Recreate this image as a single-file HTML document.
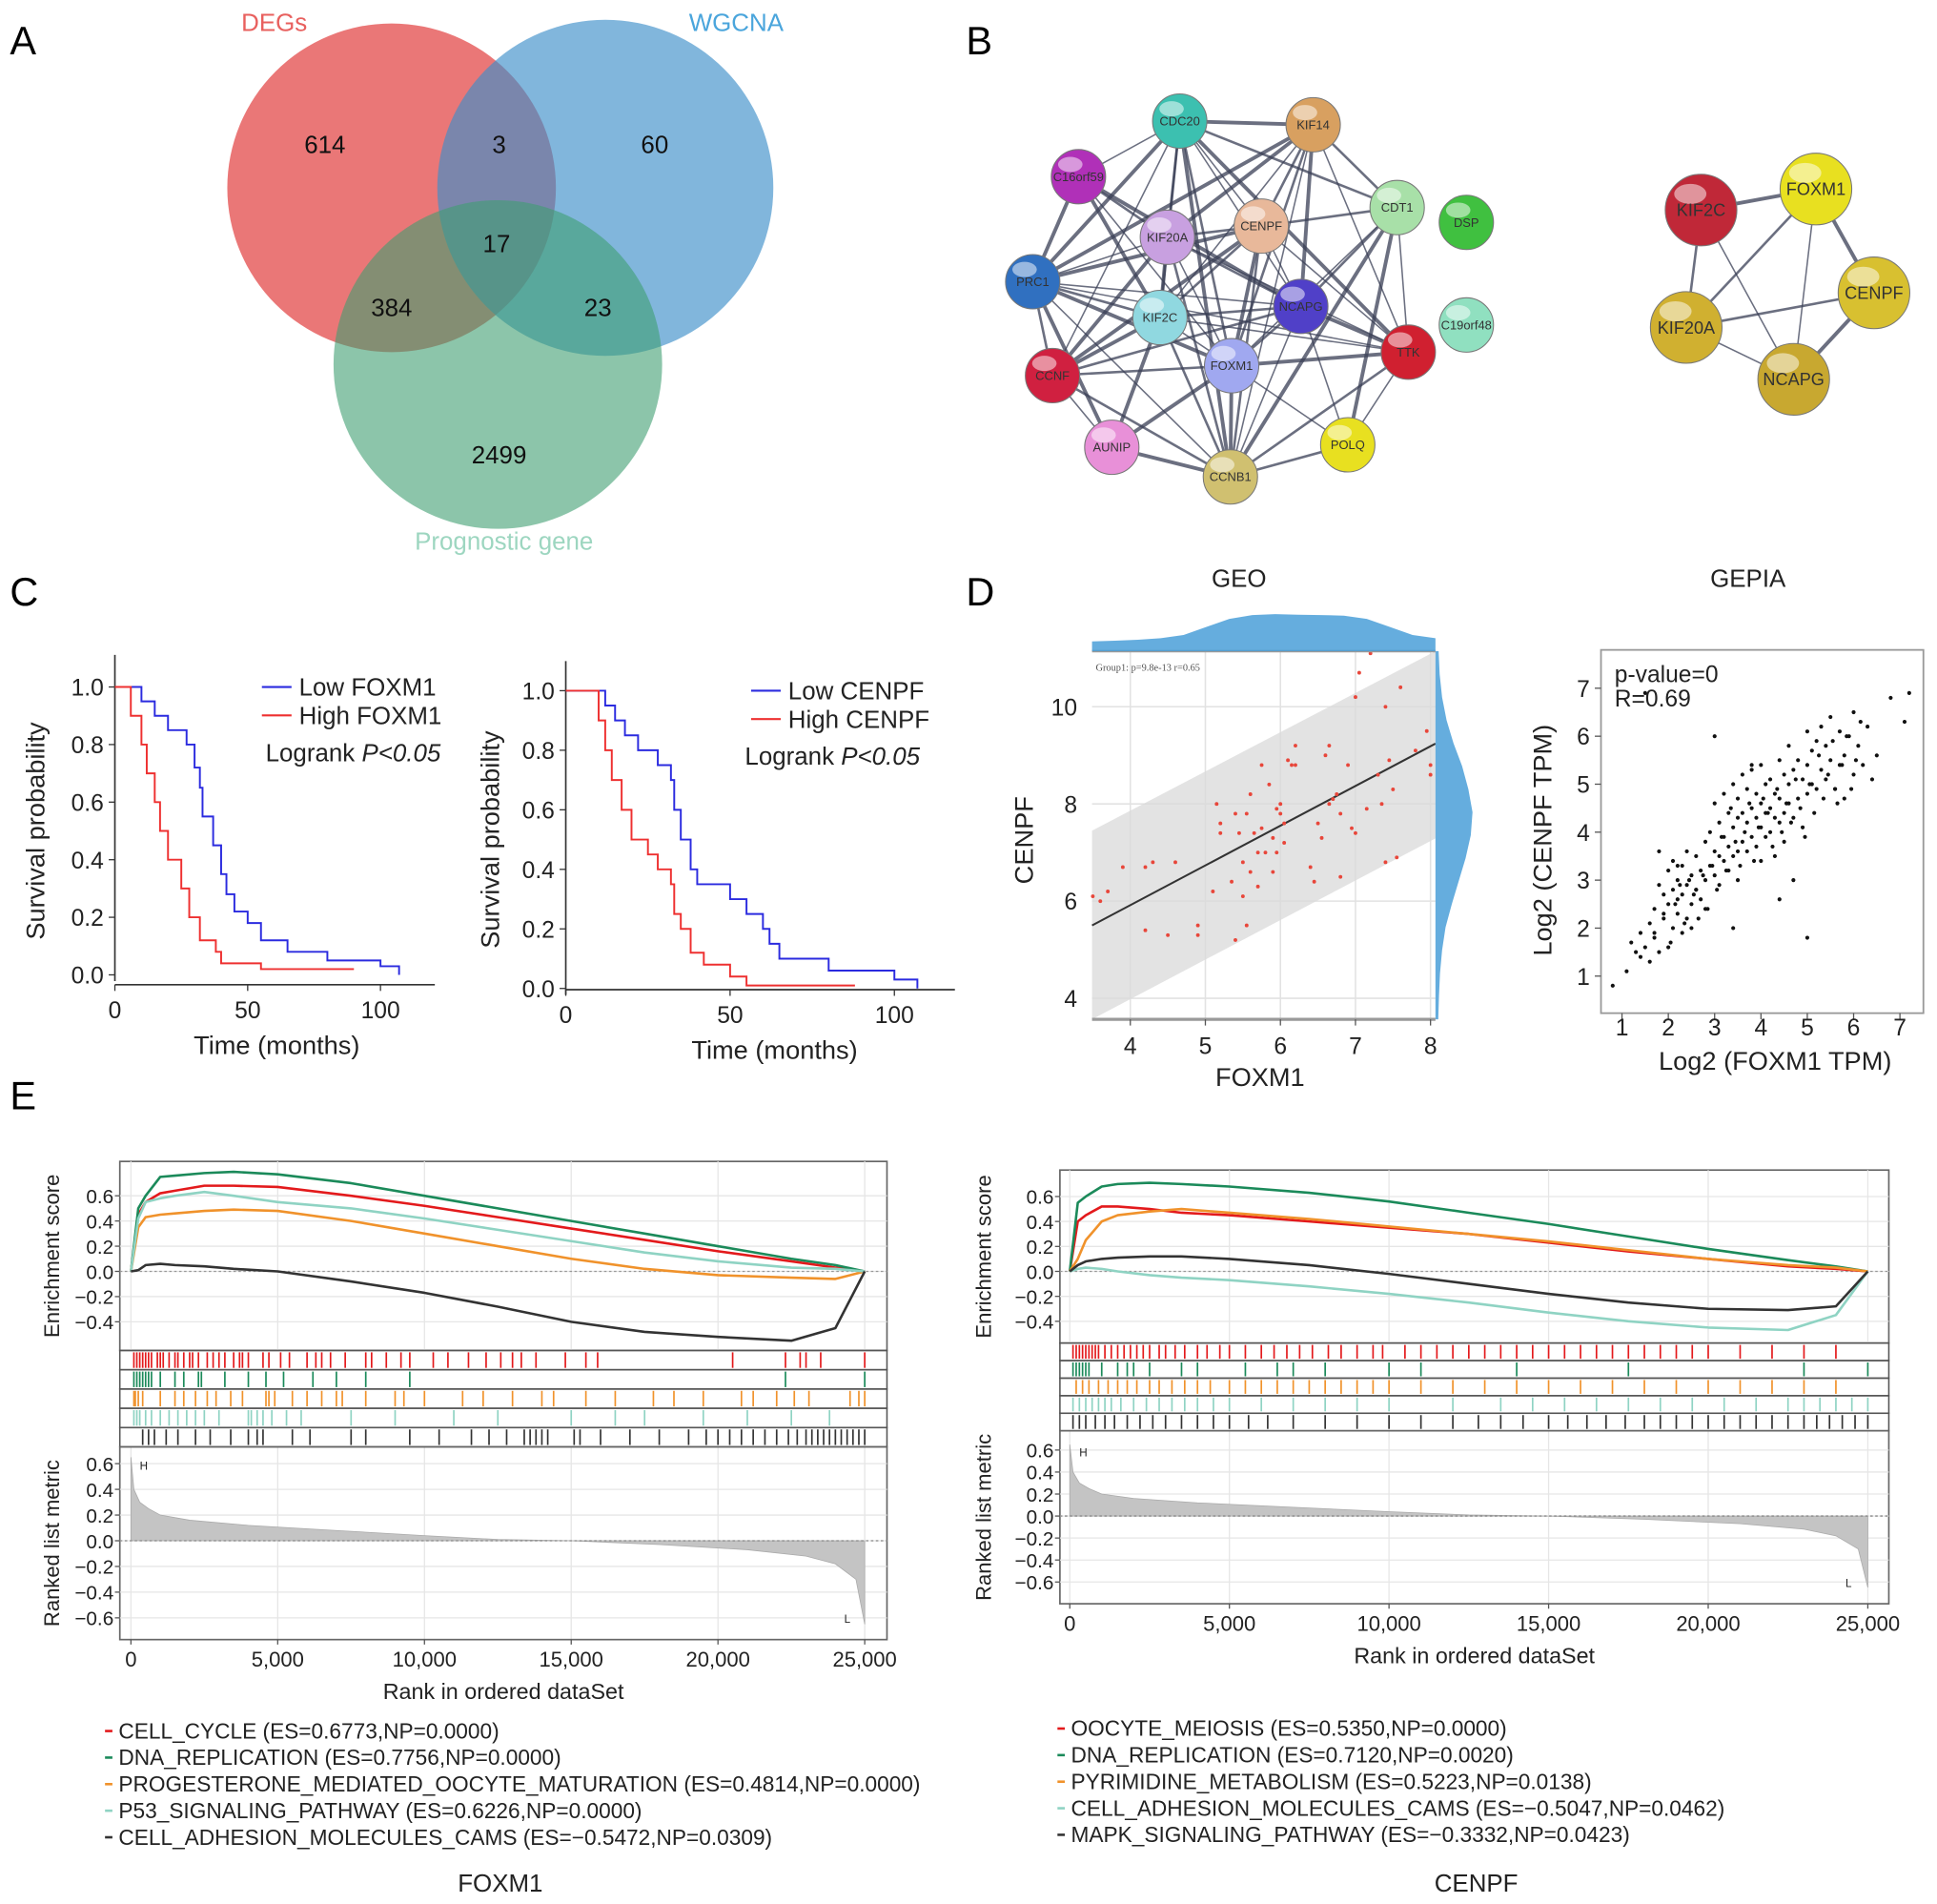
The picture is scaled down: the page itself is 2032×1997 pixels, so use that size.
<!DOCTYPE html>
<html><head><meta charset="utf-8"><style>
html,body{margin:0;padding:0;background:#fff;}
svg{display:block;font-family:"Liberation Sans",Arial,sans-serif;}
</style></head><body>
<svg id="fig" xmlns="http://www.w3.org/2000/svg" width="2032" height="1997" viewBox="0 0 1568 1541" preserveAspectRatio="none">
<g>
<text x="8" y="44" font-size="32">A</text>
<circle cx="317" cy="152" r="133" fill="#e34a4a" fill-opacity="0.75"/>
<circle cx="490" cy="152" r="136" fill="#3d8fca" fill-opacity="0.65"/>
<circle cx="403" cy="295" r="133" fill="#3f9e72" fill-opacity="0.6"/>
<g font-size="20" text-anchor="middle" fill="#111">
<text x="263" y="124">614</text>
<text x="404" y="124">3</text>
<text x="530" y="124">60</text>
<text x="402" y="204">17</text>
<text x="317" y="256">384</text>
<text x="484" y="256">23</text>
<text x="404" y="375">2499</text>
</g>
<text x="222" y="25" font-size="20" fill="#e8605e" text-anchor="middle">DEGs</text>
<text x="596" y="25" font-size="20" fill="#4aa5dc" text-anchor="middle">WGCNA</text>
<text x="408" y="445" font-size="20" fill="#9dd6c0" text-anchor="middle">Prognostic gene</text>
</g>
<text x="782" y="44" font-size="32">B</text>
<g id="netB"></g>
<text x="8" y="490" font-size="32">C</text>
<g id="panelC"></g>
<text x="782" y="490" font-size="32">D</text>
<g id="panelD"></g>
<text x="8" y="898" font-size="32">E</text>
<g id="panelE"></g>
</svg>
<script>
// ---------- DATA ----------
const netNodes = ["CDC20","KIF14","C16orf59","CDT1","DSP","KIF20A","CENPF","PRC1","KIF2C","NCAPG","C19orf48","TTK","FOXM1","CCNF","AUNIP","POLQ","CCNB1"];
const netColors = ["#3cc0b0","#d8a060","#b030b8","#a8e0a8","#40c040","#c8a0e0","#e8b89a","#3070c0","#90d8e0","#5040c8","#90e0c0","#d02030","#a0a8f0","#d02040","#e890d8","#e8e020","#d0c070"];
const netPos = [[955,98],[1063,101],[873,143],[1131,168],[1187,180],[945,192],[1021,183],[836,228],[939,257],[1053,248],[1187,263],[1140,285],[997,296],[852,304],[900,362],[1091,360],[996,386]];
const netEdges = [[0,1],[0,5],[0,6],[0,7],[0,8],[0,9],[0,11],[0,12],[0,13],[0,16],[0,3],[0,2],[1,5],[1,6],[1,8],[1,9],[1,12],[1,16],[1,7],[1,3],[1,11],[2,7],[2,5],[2,12],[2,9],[3,6],[3,12],[3,16],[3,9],[3,11],[3,15],[5,6],[5,7],[5,8],[5,9],[5,12],[5,13],[5,16],[5,11],[6,7],[6,8],[6,9],[6,12],[6,16],[6,11],[6,13],[7,8],[7,9],[7,12],[7,13],[7,16],[7,14],[8,9],[8,12],[8,13],[8,16],[8,11],[8,14],[9,12],[9,16],[9,11],[9,13],[9,15],[11,12],[11,16],[11,15],[12,16],[12,13],[12,15],[12,14],[13,16],[13,14],[14,16],[15,16],[7,11],[2,8]];
const net2Nodes = ["KIF2C","FOXM1","CENPF","KIF20A","NCAPG"];
const net2Colors = ["#c02838","#e8e020","#d8c030","#d0b030","#c8a830"];
const net2Pos = [[1377,170],[1470,153],[1517,237],[1365,265],[1452,307]];
const net2Edges = [[0,1],[0,3],[0,4],[1,2],[1,3],[1,4],[2,4],[2,3],[3,4]];
const foxLowT = [0,5,10,15,20,27,30,32,33,37,40,42,45,50,55,65,80,100,107];
const foxLowS = [1,1,0.95,0.9,0.85,0.8,0.72,0.65,0.55,0.45,0.35,0.28,0.22,0.18,0.12,0.08,0.05,0.03,0];
const foxHighT = [0,3,6,10,12,15,17,20,25,28,32,38,40,55,90];
const foxHighS = [1,1,0.9,0.8,0.7,0.6,0.5,0.4,0.3,0.2,0.12,0.08,0.04,0.02,0.02];
const cenLowT = [0,10,12,15,18,22,28,32,33,35,38,40,50,55,60,62,65,80,100,107];
const cenLowS = [1,1,0.95,0.9,0.85,0.8,0.75,0.7,0.6,0.5,0.4,0.35,0.3,0.25,0.2,0.15,0.1,0.06,0.03,0];
const cenHighT = [0,3,10,12,14,17,20,25,28,32,33,35,38,42,50,55,88];
const cenHighS = [1,1,0.9,0.8,0.7,0.6,0.5,0.45,0.4,0.35,0.25,0.2,0.12,0.08,0.04,0.01,0.01];
const kmXTicks = [0,50,100];
const kmYTicks = [0,0.2,0.4,0.6,0.8,1.0];
const geoX = [3.5,3.6,3.7,3.9,4.2,4.2,4.3,4.5,4.6,4.9,4.9,5.1,5.15,5.2,5.2,5.35,5.4,5.4,5.45,5.5,5.5,5.55,5.55,5.6,5.6,5.65,5.7,5.7,5.75,5.75,5.8,5.85,5.9,5.9,5.95,5.95,6.0,6.0,6.05,6.05,6.1,6.15,6.2,6.2,6.4,6.45,6.5,6.55,6.6,6.65,6.65,6.7,6.75,6.8,6.8,6.9,6.95,7.0,7.0,7.05,7.15,7.2,7.3,7.35,7.4,7.4,7.45,7.5,7.55,7.6,7.8,7.95,8.0,8.0];
const geoY = [6.1,6.0,6.2,6.7,5.4,6.7,6.8,5.3,6.8,5.5,5.3,6.2,8.0,7.6,7.4,6.4,5.2,7.8,7.4,6.1,6.8,7.8,5.5,8.2,6.6,7.4,6.3,7.0,7.5,8.8,7.0,8.4,6.6,7.3,7.9,7.0,7.8,8.0,7.6,7.2,8.9,8.8,9.2,8.8,6.7,6.4,7.6,7.3,9.0,9.2,8.0,8.1,8.2,7.8,6.5,8.8,7.5,10.2,7.4,10.7,7.9,11.1,8.6,8.0,10.0,6.8,8.9,8.3,6.9,10.4,9.1,9.5,8.8,8.6];
const geoXTicks = [4,5,6,7,8];
const geoYTicks = [4,6,8,10];
const geoTopDens = [0.15,0.17,0.2,0.25,0.35,0.6,0.85,0.97,1.0,0.98,0.97,0.95,0.85,0.6,0.35,0.25];
const geoRightDens = [0.02,0.05,0.12,0.25,0.45,0.7,0.88,1.0,0.95,0.8,0.6,0.4,0.22,0.12,0.06,0.03,0.01];
const gepX = [0.8,1.1,1.2,1.3,1.4,1.4,1.5,1.6,1.6,1.7,1.7,1.8,1.8,1.9,1.9,2.0,2.0,2.0,2.1,2.1,2.1,2.2,2.2,2.2,2.3,2.3,2.3,2.4,2.4,2.4,2.5,2.5,2.5,2.6,2.6,2.7,2.7,2.8,2.8,2.8,2.9,2.9,3.0,3.0,3.0,3.1,3.1,3.1,3.2,3.2,3.2,3.3,3.3,3.3,3.4,3.4,3.4,3.5,3.5,3.5,3.5,3.6,3.6,3.6,3.7,3.7,3.7,3.8,3.8,3.8,3.9,3.9,3.9,4.0,4.0,4.0,4.0,4.1,4.1,4.1,4.2,4.2,4.2,4.3,4.3,4.3,4.4,4.4,4.4,4.5,4.5,4.5,4.6,4.6,4.6,4.7,4.7,4.8,4.8,4.9,4.9,5.0,5.0,5.0,5.1,5.1,5.2,5.2,5.3,5.3,5.4,5.4,5.5,5.5,5.6,5.7,5.7,5.8,5.8,5.9,6.0,6.0,6.1,6.2,6.3,6.5,6.8,7.1,7.2,3.0,3.8,5.0,4.4,2.6,1.8,2.2,3.4,4.7,5.6,
  1.5,1.7,1.9,2.05,2.15,2.25,2.35,2.45,2.55,2.65,2.75,2.85,2.95,3.05,3.15,3.25,3.35,3.45,3.55,3.65,3.75,3.85,3.95,4.05,4.15,4.25,4.35,4.45,4.55,4.65,4.75,4.85,4.95,5.05,5.15,5.25,5.35,5.45,5.55,5.65,5.75,5.85,5.95,6.05,6.15,6.4];
const gepY = [0.8,1.1,1.7,1.5,1.4,1.9,1.6,2.1,1.3,1.8,2.4,1.5,2.9,2.2,2.7,1.6,2.5,3.2,2.0,2.8,3.4,2.3,2.6,3.0,1.9,2.7,3.3,2.2,2.9,3.6,2.5,3.1,2.0,2.8,3.5,2.6,3.2,3.0,3.8,2.4,3.3,4.0,3.1,3.6,4.6,2.9,3.5,4.2,3.4,3.9,4.8,3.2,3.7,4.4,3.5,4.1,5.0,3.0,3.6,4.3,4.7,3.8,4.4,5.2,3.6,4.2,4.9,3.9,4.5,5.3,3.7,4.3,4.8,3.4,4.1,4.6,5.4,3.9,4.4,5.0,4.0,4.5,5.1,3.5,4.3,4.8,4.2,4.7,5.5,3.8,4.4,5.2,4.6,5.0,5.8,4.3,5.3,4.7,5.5,4.1,5.1,4.8,5.4,6.1,5.0,5.7,4.9,5.9,5.3,6.2,5.1,5.8,5.5,6.4,4.9,5.4,6.1,4.7,5.6,6.0,5.2,6.5,5.8,5.4,6.2,5.6,6.8,6.3,6.9,6.0,5.4,1.8,2.6,2.8,3.6,3.3,2.0,3.0,4.9,6.9,
  1.9,2.3,1.7,2.5,2.9,2.1,3.0,2.7,2.2,3.1,2.4,3.3,2.8,3.9,3.2,4.5,3.8,3.3,4.0,4.6,3.4,4.1,4.7,4.4,3.7,4.9,4.0,4.6,4.2,5.1,4.5,3.9,5.0,4.4,5.6,4.7,5.2,5.9,4.6,5.4,6.0,4.9,5.5,6.3,5.1,5.8];
const gepXTicks = [1,2,3,4,5,6,7];
const gepYTicks = [1,2,3,4,5,6,7];
const esRanks = [0,250,500,1000,1500,2500,3500,5000,7500,10000,12500,15000,17500,20000,22500,24000,25000];
const esL_green = [0,0.5,0.6,0.75,0.76,0.78,0.79,0.77,0.7,0.6,0.5,0.4,0.3,0.2,0.1,0.05,0];
const esL_red = [0,0.45,0.55,0.62,0.64,0.68,0.68,0.67,0.6,0.52,0.43,0.34,0.25,0.16,0.08,0.03,0];
const esL_cyan = [0,0.42,0.55,0.58,0.6,0.63,0.6,0.55,0.5,0.42,0.33,0.24,0.15,0.08,0.03,0.02,0];
const esL_orange = [0,0.35,0.43,0.45,0.46,0.48,0.49,0.48,0.4,0.3,0.2,0.1,0.02,-0.03,-0.05,-0.06,0];
const esL_black = [0,0.01,0.05,0.06,0.05,0.04,0.02,0,-0.08,-0.17,-0.28,-0.4,-0.48,-0.52,-0.55,-0.45,0];
const esR_green = [0,0.55,0.6,0.68,0.7,0.71,0.7,0.68,0.63,0.56,0.47,0.38,0.28,0.18,0.09,0.04,0];
const esR_red = [0,0.4,0.45,0.52,0.52,0.5,0.47,0.45,0.4,0.35,0.3,0.23,0.16,0.1,0.04,0.02,0];
const esR_orange = [0,0.1,0.25,0.4,0.45,0.48,0.5,0.47,0.42,0.36,0.3,0.24,0.17,0.1,0.05,0.03,0];
const esR_cyan = [0,0.02,0.03,0.02,0,-0.03,-0.05,-0.07,-0.12,-0.18,-0.25,-0.33,-0.4,-0.45,-0.47,-0.35,0];
const esR_black = [0,0.05,0.08,0.1,0.11,0.12,0.12,0.1,0.05,-0.02,-0.1,-0.18,-0.25,-0.3,-0.31,-0.28,0];
const hitsL_red = [100,200,300,400,500,600,700,900,1000,1100,1300,1500,1600,1800,2000,2100,2300,2600,2800,3000,3200,3500,3700,3800,4000,4500,4700,5100,5400,6000,6300,6500,6800,7300,8000,8200,8700,9200,9500,10300,10800,11500,12100,12600,13000,13300,13800,14800,15500,15900,20500,22300,22800,23000,23500,25000];
const hitsL_green = [100,200,300,400,500,600,700,1000,1500,1800,2300,2400,3200,4000,4600,5200,6200,7000,8000,9500,22300,25000];
const hitsL_orange = [100,150,250,400,1000,1500,1800,2200,2600,2900,3400,3800,4600,4700,4900,5500,6000,6500,7000,7200,8000,9000,9300,10000,11300,12000,13000,14000,14400,15500,16500,17800,18500,19500,20800,21200,22000,22600,23100,24500,24800,25000];
const hitsL_cyan = [100,200,300,500,700,1000,1300,1600,1900,2200,2500,3000,4000,4100,4300,4500,4800,5300,5800,7500,9000,11000,12500,15000,16500,17500,19500,21000,22500,23800];
const hitsL_black = [400,600,800,1200,1600,2200,2700,3400,4000,4300,4500,5500,6100,7500,8000,9500,10500,11600,12200,12800,13400,13600,13800,14000,14200,15100,15300,16000,17000,18000,19000,19600,20000,20400,20800,21200,21600,22000,22400,22700,23000,23200,23400,23600,23800,24000,24200,24400,24600,24800,25000];
const hitsR_red = [100,200,300,400,500,600,700,800,900,1100,1300,1500,1700,1900,2100,2300,2500,2800,3000,3300,3600,4000,4300,4700,5000,5500,6000,6400,6800,7200,7600,8100,8500,9000,9500,9800,10500,11000,11500,12000,12500,13000,13500,14000,14500,15000,15500,16000,16500,17000,17500,18000,18500,19000,19500,20000,21000,22000,23000,24000];
const hitsR_green = [100,200,300,400,500,600,1000,1500,1800,2000,2500,3500,4000,5500,6500,7000,8000,10000,11000,14000,17500,23000,25000];
const hitsR_orange = [200,400,600,900,1200,1500,1800,2100,2500,2800,3200,3600,4000,4400,5000,5500,6000,6500,7000,7500,8000,8500,9000,9500,10000,11000,12000,13000,14000,15000,16000,17000,18000,19000,20000,21000,22000,23000,24000];
const hitsR_cyan = [100,300,500,700,900,1100,1300,1600,2000,2400,2800,3200,3600,4000,4500,5000,6000,7000,8000,9000,10000,12000,13500,14500,15500,16500,17500,18500,19500,20500,21500,22500,23000,23500,24000,24500,25000];
const hitsR_black = [100,300,500,800,1100,1400,1800,2200,2600,3000,3500,4000,4500,5000,5600,6200,7000,8000,9000,10000,11000,12000,12800,13500,14200,15000,15600,16200,16800,17400,18000,18500,19000,19500,20000,20500,21000,21500,22000,22500,23000,23400,23800,24200,24600,25000];
const rankedRanks = [0,100,300,600,1000,2000,4000,7000,10000,12500,15000,18000,21000,23000,24000,24700,25000];
const rankedVals = [0.65,0.4,0.3,0.25,0.2,0.16,0.12,0.08,0.04,0.01,0,-0.03,-0.07,-0.12,-0.18,-0.3,-0.65];
const gseaXTicks = [0,5000,10000,15000,20000,25000];
const esTicks = [0.6,0.4,0.2,0,-0.2,-0.4];
const rankedTicks = [0.6,0.4,0.2,0,-0.2,-0.4,-0.6];
const legendL = ["CELL_CYCLE (ES=0.6773,NP=0.0000)","DNA_REPLICATION (ES=0.7756,NP=0.0000)","PROGESTERONE_MEDIATED_OOCYTE_MATURATION (ES=0.4814,NP=0.0000)","P53_SIGNALING_PATHWAY (ES=0.6226,NP=0.0000)","CELL_ADHESION_MOLECULES_CAMS (ES=\u22120.5472,NP=0.0309)"];
const legendR = ["OOCYTE_MEIOSIS (ES=0.5350,NP=0.0000)","DNA_REPLICATION (ES=0.7120,NP=0.0020)","PYRIMIDINE_METABOLISM (ES=0.5223,NP=0.0138)","CELL_ADHESION_MOLECULES_CAMS (ES=\u22120.5047,NP=0.0462)","MAPK_SIGNALING_PATHWAY (ES=\u22120.3332,NP=0.0423)"];

// ---------- HELPERS ----------
const NS = "http://www.w3.org/2000/svg";
function mk(tag, attrs, parent){const e=document.createElementNS(NS,tag);for(const k in attrs)e.setAttribute(k,attrs[k]);parent.appendChild(e);return e;}
function txt(parent,x,y,s,size,anchor,extra){const e=mk("text",Object.assign({x:x,y:y,"font-size":size,"text-anchor":anchor||"start",fill:"#222"},extra||{}),parent);e.textContent=s;return e;}
function fmt(v){if(v<0)return "\u2212"+Math.abs(v).toFixed(1);return v.toFixed(1);}
function fmtK(v){return v===0?"0":v.toLocaleString("en-US");}

// ---------- PANEL B ----------
(function(){
  const g=document.getElementById("netB");
  function drawNet(nodes,cols,pos,edges,r,fs){
    edges.forEach(([a,b],i)=>{
      const l=mk("line",{x1:pos[a][0],y1:pos[a][1],x2:pos[b][0],y2:pos[b][1],stroke:"#3a3f55","stroke-opacity":0.75,"stroke-width":(i%3===0?3:(i%3===1?2:1.2))},g);
      
      
    });
    nodes.forEach((n,i)=>{
      const c=mk("circle",{cx:pos[i][0],cy:pos[i][1],r:r,fill:cols[i],stroke:"#777","stroke-width":0.8},g);
      
      
      const h=mk("ellipse",{cx:pos[i][0]-r*0.3,cy:pos[i][1]-r*0.45,rx:r*0.45,ry:r*0.28,fill:"#fff","fill-opacity":0.5},g);
      
      
      const t=txt(g,pos[i][0],pos[i][1]+fs*0.35,n,fs,"middle",{fill:"#333"});
      
      
    });
  }
  drawNet(netNodes,netColors,netPos,netEdges,22,10);
  drawNet(net2Nodes,net2Colors,net2Pos,net2Edges,29,14);
})();

// ---------- PANEL C ----------
(function(){
  const g=document.getElementById("panelC");
  function km(cfg,lowT,lowS,highT,highS,lowName,highName){
    const X=t=>cfg.x0+t*cfg.xs, Y=s=>cfg.y1-(cfg.y1-cfg.y0)*s;
    const ax=mk("path",{d:`M${cfg.x0} ${cfg.top} V${cfg.y1+5} M${cfg.x0} ${cfg.bot} H${cfg.right}`,stroke:"#333","stroke-width":1.3,fill:"none"},g);
    
    
    kmYTicks.forEach(v=>{mk("line",{x1:cfg.x0-5,x2:cfg.x0,y1:Y(v),y2:Y(v),stroke:"#333"},g);
      const t=txt(g,cfg.x0-9,Y(v)+7,v.toFixed(1),19,"end");
      
      });
    kmXTicks.forEach(v=>{mk("line",{x1:X(v),x2:X(v),y1:cfg.bot,y2:cfg.bot+5,stroke:"#333"},g);
      const t=txt(g,X(v),cfg.bot+27,String(v),19,"middle");
      
      });
    const yl=txt(g,0,0,"Survival probability",21,"middle",{transform:`translate(${cfg.ylx},${(cfg.y0+cfg.y1)/2}) rotate(-90)`});
    
    
    const xl=txt(g,cfg.xt,cfg.bot+56,"Time (months)",21,"middle");
    
    
    function step(T,S,col,nm){let d=`M${X(T[0])} ${Y(S[0])}`;for(let i=1;i<T.length;i++){d+=` H${X(T[i])} V${Y(S[i])}`;}
      const p=mk("path",{d:d,stroke:col,"stroke-width":1.5,fill:"none"},g);
      
      }
    step(lowT,lowS,"#2b2bdf","km-curve-low");
    step(highT,highS,"#ee3030","km-curve-high");
    mk("line",{x1:cfg.lx,x2:cfg.lx+24,y1:cfg.ly-7,y2:cfg.ly-7,stroke:"#2b2bdf","stroke-width":1.6},g);
    mk("line",{x1:cfg.lx,x2:cfg.lx+24,y1:cfg.ly+16,y2:cfg.ly+16,stroke:"#ee3030","stroke-width":1.6},g);
    const l1=txt(g,cfg.lx+30,cfg.ly,lowName,20,"start");
    
    
    const l2=txt(g,cfg.lx+30,cfg.ly+23,highName,20,"start");
    
    
    const lr=mk("text",{x:cfg.lx+cfg.lrdx,y:cfg.ly+53,"font-size":20,fill:"#222"},g);
    lr.innerHTML='Logrank <tspan font-style="italic">P&lt;0.05</tspan>';
    
    
  }
  km({x0:93,xs:2.15,y0:556,y1:789,top:530,bot:797,right:352,ylx:36,xt:224,lx:212,ly:563,lrdx:3},foxLowT,foxLowS,foxHighT,foxHighS,"Low FOXM1","High FOXM1");
  km({x0:458,xs:2.66,y0:559,y1:800,top:535,bot:801,right:773,ylx:404,xt:627,lx:608,ly:566,lrdx:-5},cenLowT,cenLowS,cenHighT,cenHighS,"Low CENPF","High CENPF");
})();

// ---------- PANEL D ----------
(function(){
  const g=document.getElementById("panelD");
  const X=v=>915+(v-4)*60.75, Y=v=>572+(10-v)*39.33;
  const L=884,R=1162,T=527,B=825;
  const tt=txt(g,1003,475,"GEO",20,"middle");
  
  
  geoXTicks.forEach(v=>{const l=mk("line",{x1:X(v),x2:X(v),y1:T,y2:B,stroke:"#e2e2e2","stroke-width":1.2},g);
    
    });
  geoYTicks.forEach(v=>{const l=mk("line",{x1:L,x2:R,y1:Y(v),y2:Y(v),stroke:"#e2e2e2","stroke-width":1.2},g);
    
    });
  const slope=(9.2-5.5)/4.5, b0=5.5-3.5*slope, half=1.95;
  const f=v=>b0+slope*v;
  const band=mk("path",{d:`M${L} ${Y(f(3.5)+half)} L${R} ${Math.max(T,Y(f(8.05)+half))} L${R} ${Y(f(8.05)-half)} L${L} ${Math.min(B,Y(f(3.5)-half))} Z`,fill:"#d9d9d9","fill-opacity":0.75},g);
  
  
  const rl=mk("line",{x1:L,y1:Y(f(3.5)),x2:R,y2:Y(f(8.05)),stroke:"#333","stroke-width":1.6},g);
  
  
  geoX.forEach((x,i)=>{const c=mk("circle",{cx:X(x),cy:Y(geoY[i]),r:1.5,fill:"#e8463a"},g);
    
    });
  const bl=mk("line",{x1:L,x2:R,y1:B,y2:B,stroke:"#999","stroke-width":2.5},g);
  
  
  mk("line",{x1:L,x2:R,y1:T,y2:T,stroke:"#999","stroke-width":2},g);
  let d=`M${L} ${T}`;
  geoTopDens.forEach((v,i)=>{d+=` L${L+(R-L)*i/(geoTopDens.length-1)} ${T-4-v*26}`;});
  d+=` L${R} ${T} Z`;
  const td=mk("path",{d:d,fill:"#4a9fd8","fill-opacity":0.85},g);
  
  
  let d2=`M${R} ${T}`;
  geoRightDens.forEach((v,i)=>{d2+=` L${R+2+v*28} ${T+(B-T)*i/(geoRightDens.length-1)}`;});
  d2+=` L${R} ${B} Z`;
  const rd=mk("path",{d:d2,fill:"#4a9fd8","fill-opacity":0.85},g);
  
  
  const ann=txt(g,887,543,"Group1: p=9.8e-13 r=0.65",8,"start",{"font-family":"Liberation Serif, serif",fill:"#555"});
  
  
  geoXTicks.forEach(v=>{mk("line",{x1:X(v),x2:X(v),y1:B,y2:B+5,stroke:"#555"},g);
    const t=txt(g,X(v),B+28,String(v),19,"middle");
    
    });
  geoYTicks.forEach(v=>{const t=txt(g,872,Y(v)+7,String(v),19,"end");
    
    });
  const xt=txt(g,1020,879,"FOXM1",21,"middle");
  
  
  const yt=txt(g,0,0,"CENPF",21,"middle",{transform:"translate(836,680) rotate(-90)"});
  
  
  // GEPIA
  const X2=v=>1313+(v-1)*37.5, Y2=v=>790-(v-1)*38.83;
  const gt=txt(g,1415,475,"GEPIA",20,"middle");
  
  
  const box=mk("rect",{x:1296,y:526,width:261,height:294,fill:"none",stroke:"#999","stroke-width":1.4},g);
  
  
  gepX.forEach((x,i)=>{const c=mk("circle",{cx:X2(x),cy:Y2(gepY[i]),r:1.6,fill:"#111"},g);
    
    });
  gepXTicks.forEach(v=>{mk("line",{x1:X2(v),x2:X2(v),y1:820,y2:825,stroke:"#555"},g);
    const t=txt(g,X2(v),838,String(v),19,"middle");
    
    });
  gepYTicks.forEach(v=>{mk("line",{x1:1291,x2:1296,y1:Y2(v),y2:Y2(v),stroke:"#555"},g);
    const t=txt(g,1287,Y2(v)+7,String(v),19,"end");
    
    });
  const p1=txt(g,1307,552,"p-value=0",19,"start");
  
  
  const p2=txt(g,1307,572,"R=0.69",19,"start");
  
  
  const gx=txt(g,1437,866,"Log2 (FOXM1 TPM)",21,"middle");
  
  
  const gy=txt(g,0,0,"Log2 (CENPF TPM)",21,"middle",{transform:"translate(1256,680) rotate(-90)"});
  
  
})();

// ---------- PANEL E ----------
(function(){
  const g=document.getElementById("panelE");
  const cols=["#e31a1c","#1b8a5a","#f0922b","#8fd3c3","#333333"];
  function gsea(c,es,hits,legend,title){
    const X=r=>c.x0+r*c.xk;
    const EY=v=>c.esZero-v*c.esK;
    const RY=v=>c.rkZero-v*c.rkK;
    const f1=mk("rect",{x:c.L,y:c.T,width:c.R-c.L,height:c.esB-c.T,fill:"none",stroke:"#666","stroke-width":1.3},g);
    
    
    gseaXTicks.forEach(v=>{mk("line",{x1:X(v),x2:X(v),y1:c.T,y2:c.esB,stroke:"#e6e6e6"},g);
      mk("line",{x1:X(v),x2:X(v),y1:c.hB,y2:c.B,stroke:"#e6e6e6"},g);});
    esTicks.forEach(v=>{mk("line",{x1:c.L,x2:c.R,y1:EY(v),y2:EY(v),stroke:"#e6e6e6"},g);
      mk("line",{x1:c.L-4,x2:c.L,y1:EY(v),y2:EY(v),stroke:"#555"},g);
      const t=txt(g,c.L-5,EY(v)+6,fmt(v),16,"end");
      
      });
    mk("line",{x1:c.L,x2:c.R,y1:EY(0),y2:EY(0),stroke:"#999","stroke-dasharray":"2,2"},g);
    es.forEach((arr,k)=>{let d="";arr.forEach((v,i)=>{d+=(i?" L":"M")+X(esRanks[i])+" "+EY(v);});
      const p=mk("path",{d:d,stroke:cols[k],"stroke-width":2,fill:"none","stroke-linejoin":"round"},g);
      
      });
    const yt=txt(g,0,0,"Enrichment score",17,"middle",{transform:`translate(${c.ylx},${(c.T+c.esB)/2}) rotate(-90)`});
    
    
    const rh=(c.hB-c.esB)/5;
    hits.forEach((arr,k)=>{
      const y0=c.esB+k*rh;
      const fr=mk("rect",{x:c.L,y:y0,width:c.R-c.L,height:rh,fill:"none",stroke:"#555","stroke-width":1.2},g);
      
      
      arr.forEach(r=>{const l=mk("line",{x1:X(r),x2:X(r),y1:y0+1.5,y2:y0+rh-1.5,stroke:cols[k],"stroke-width":1.3},g);
        
        });
    });
    const f2=mk("rect",{x:c.L,y:c.hB,width:c.R-c.L,height:c.B-c.hB,fill:"none",stroke:"#666","stroke-width":1.3},g);
    
    
    rankedTicks.forEach(v=>{mk("line",{x1:c.L,x2:c.R,y1:RY(v),y2:RY(v),stroke:"#e6e6e6"},g);
      mk("line",{x1:c.L-4,x2:c.L,y1:RY(v),y2:RY(v),stroke:"#555"},g);
      const t=txt(g,c.L-5,RY(v)+6,fmt(v),16,"end");
      
      });
    let d=`M${X(0)} ${RY(0)}`;
    rankedRanks.forEach((r,i)=>{d+=` L${X(r)} ${RY(rankedVals[i])}`;});
    d+=` L${X(25000)} ${RY(0)} Z`;
    const area=mk("path",{d:d,fill:"#c4c4c4",stroke:"#aaa","stroke-width":0.6},g);
    
    
    mk("line",{x1:c.L,x2:c.R,y1:RY(0),y2:RY(0),stroke:"#888","stroke-dasharray":"2,2"},g);
    txt(g,X(300),RY(0.6)+5,"H",9,"start");
    txt(g,X(24300),RY(-0.6)+4,"L",9,"start");
    const yt2=txt(g,0,0,"Ranked list metric",17,"middle",{transform:`translate(${c.ylx},${(c.hB+c.B)/2}) rotate(-90)`});
    
    
    gseaXTicks.forEach(v=>{mk("line",{x1:X(v),x2:X(v),y1:c.B,y2:c.B+4,stroke:"#555"},g);
      const t=txt(g,X(v),c.B+22,fmtK(v),17,"middle");
      
      });
    const xt=txt(g,(c.L+c.R)/2,c.B+48,"Rank in ordered dataSet",18,"middle");
    
    
    legend.forEach((s,k)=>{const y=c.legY+k*21.5;
      mk("line",{x1:c.legX,x2:c.legX+6,y1:y-6,y2:y-6,stroke:cols[k],"stroke-width":2},g);
      const t=txt(g,c.legX+11,y,s,17.5,"start");
      
      });
    const tl=txt(g,c.titleX,1531,title,20,"middle");
    
    
  }
  gsea({L:97,R:718,T:940,esB:1093,hB:1171,B:1327,x0:106,xk:0.02376,esZero:1029,esK:102,rkZero:1247,rkK:104,ylx:48,legX:85,legY:1407,titleX:405},
    [esL_red,esL_green,esL_orange,esL_cyan,esL_black],[hitsL_red,hitsL_green,hitsL_orange,hitsL_cyan,hitsL_black],legendL,"FOXM1");
  gsea({L:858,R:1529,T:947,esB:1087,hB:1158,B:1298,x0:866,xk:0.02584,esZero:1029,esK:101,rkZero:1227,rkK:89,ylx:802,legX:856,legY:1405,titleX:1195},
    [esR_red,esR_green,esR_orange,esR_cyan,esR_black],[hitsR_red,hitsR_green,hitsR_orange,hitsR_cyan,hitsR_black],legendR,"CENPF");
})();
</script>
</body></html>
